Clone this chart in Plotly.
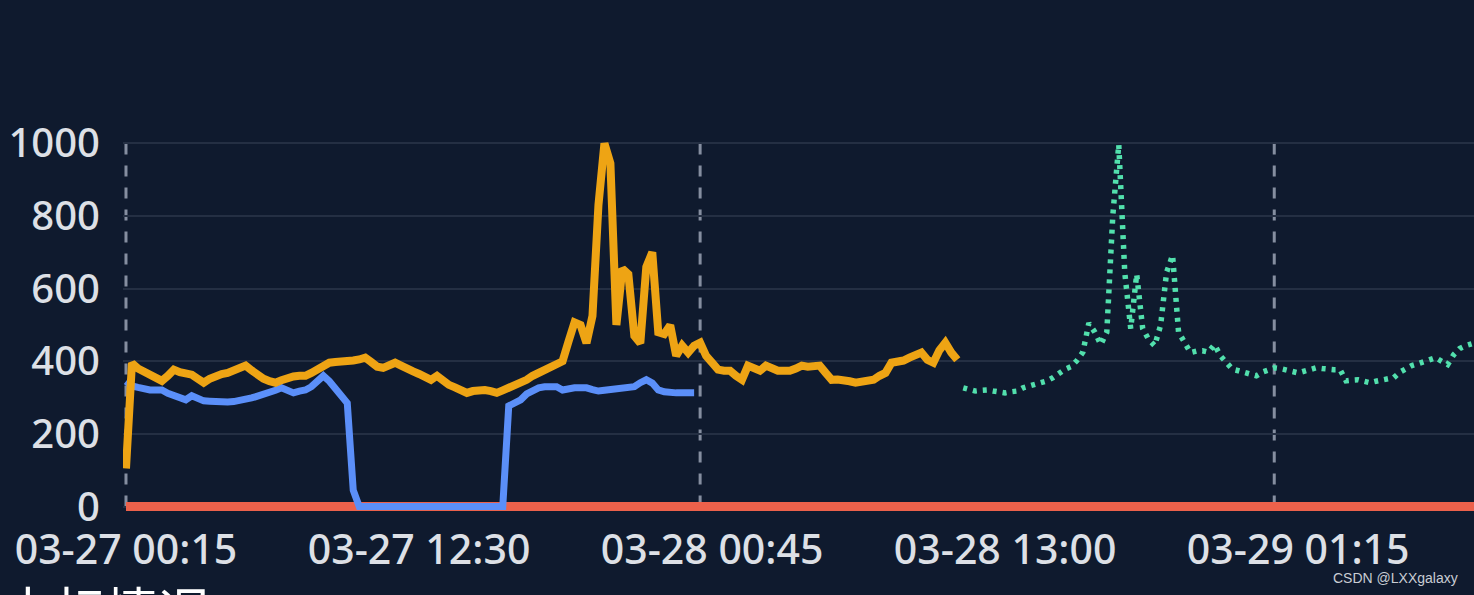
import pandas as pd
import plotly.graph_objects as go

# 15-minute time slots, starting 03-27 00:15
times = pd.date_range("2023-03-27 00:15", periods=230, freq="15min")

# orange series, slots 0..139
orange_vals = [
    105, 395, 380, 370, 365, 352, 346, 360, 377, 370,
    365, 363, 352, 341, 352, 360, 365, 368, 375, 382,
    388, 375, 360, 352, 345, 341, 348, 355, 358, 360,
    360, 368, 377, 388, 396, 398, 398, 400, 402, 405,
    410, 398, 385, 382, 390, 396, 388, 377, 372, 365,
    355, 349, 360, 345, 335, 328, 320, 313, 318, 321,
    321, 318, 313, 320, 326, 332, 338, 349, 360, 368,
    377, 385, 395, 400, 455, 507, 500, 450, 525, 830,
    1000, 945, 500, 655, 640, 470, 450, 660, 700, 480,
    475, 499, 415, 443, 424, 443, 451, 415, 396, 377,
    374, 374, 360, 349, 388, 380, 374, 388, 380, 374,
    374, 374, 380, 388, 385, 388, 388, 368, 349, 350,
    349, 345, 341, 345, 347, 349, 360, 368, 396, 398,
    402, 410, 415, 424, 404, 396, 430, 451, 424, 404,
]

# blue series, slots 0..95
blue_vals = [
    345, 332, 328, 322, 321, 321, 321, 312, 305, 300,
    294, 305, 298, 291, 290, 288, 288, 288, 289, 291,
    295, 299, 304, 308, 313, 320, 327, 318, 313, 318,
    321, 330, 345, 360, 345, 321, 305, 285, 45, 0,
    0, 0, 0, 0, 0, 0, 0, 0, 0, 0,
    0, 0, 0, 0, 0, 0, 0, 0, 0, 0,
    0, 0, 0, 0, 277, 285, 294, 310, 321, 327,
    330, 332, 330, 321, 325, 327, 327, 327, 322, 318,
    320, 322, 321, 325, 327, 330, 341, 349, 340, 321,
    316, 313, 313, 313, 313, 313,
]

# green (dotted) series, slots 140..225
green_start = 140
green_vals = [
    327, 322, 318, 320, 321, 318, 314, 313, 316, 318,
    327, 332, 338, 341, 346, 355, 368, 378, 385, 402,
    425, 505, 480, 446, 480, 800, 997, 645, 490, 640,
    490, 460, 443, 499, 645, 692, 480, 451, 424, 428,
    429, 425, 446, 415, 396, 378, 374, 368, 363, 360,
    370, 377, 382, 380, 374, 372, 368, 372, 378, 382,
    380, 377, 377, 377, 346, 348, 349, 345, 341, 345,
    349, 352, 355, 370, 380, 388, 393, 400, 405, 410,
    400, 391, 418, 435, 443, 448,
]

# red series stays at zero the whole time
red_vals = [0] * len(times)

# day boundaries shown as dashed lines
day_slots = [0, 96, 192]

bg = "#0f1a2e"
step = pd.Timedelta(minutes=15)

fig = go.Figure()
fig.add_trace(go.Scatter(x=times, y=red_vals, mode="lines",
                         line=dict(color="#ec614b", width=9)))
fig.add_trace(go.Scatter(x=times[:len(blue_vals)], y=blue_vals, mode="lines",
                         line=dict(color="#5b8ff9", width=7)))
fig.add_trace(go.Scatter(x=times[:len(orange_vals)], y=orange_vals, mode="lines",
                         line=dict(color="#eea414", width=8)))
fig.add_trace(go.Scatter(x=times[green_start:green_start + len(green_vals)], y=green_vals,
                         mode="lines",
                         line=dict(color="#52e0ad", width=5.5, dash="4px,6px")))

for s in day_slots:
    fig.add_shape(type="line", xref="x", yref="y", x0=times[s], x1=times[s], y0=0, y1=1000,
                  line=dict(color="#858ea0", width=3, dash="11px,11px"), layer="below")

fig.update_layout(
    width=1474, height=595,
    margin=dict(l=123, r=0, t=139, b=83),
    paper_bgcolor=bg, plot_bgcolor=bg,
    showlegend=False,
    font=dict(family="Noto Sans", color="#dde0e6", size=40, weight=500),
    xaxis=dict(
        type="date",
        range=[times[0] - step / 2, times[0] + step * 225.4],
        tick0=times[0], dtick=49 * 15 * 60 * 1000,
        tickformat="%m-%d %H:%M",
        tickfont=dict(size=41),
        showgrid=False, zeroline=False, showline=False,
        ticklabelstandoff=10,
    ),
    yaxis=dict(
        range=[-15, 1012],
        tickvals=[0, 200, 400, 600, 800, 1000],
        showgrid=True, gridcolor="#242f43", gridwidth=2,
        zeroline=False, showline=False,
        ticklabelstandoff=22,
    ),
    annotations=[
        dict(text="中标情况", xref="paper", yref="paper", x=-123 / 1351, y=-57 / 373,
             xanchor="left", yanchor="top", showarrow=False,
             font=dict(family="Noto Sans CJK SC", size=52, color="#ffffff", weight=400)),
        dict(text="CSDN @LXXgalaxy", xref="paper", yref="paper", x=1, y=-56 / 373,
             xanchor="right", yanchor="top", xshift=-14, showarrow=False,
             font=dict(family="Liberation Sans", size=14, color="#c9cdd4", weight=400)),
    ],
)

fig.write_html("out.html", config={"displayModeBar": False},
               post_script="document.body.style.margin='0';")
